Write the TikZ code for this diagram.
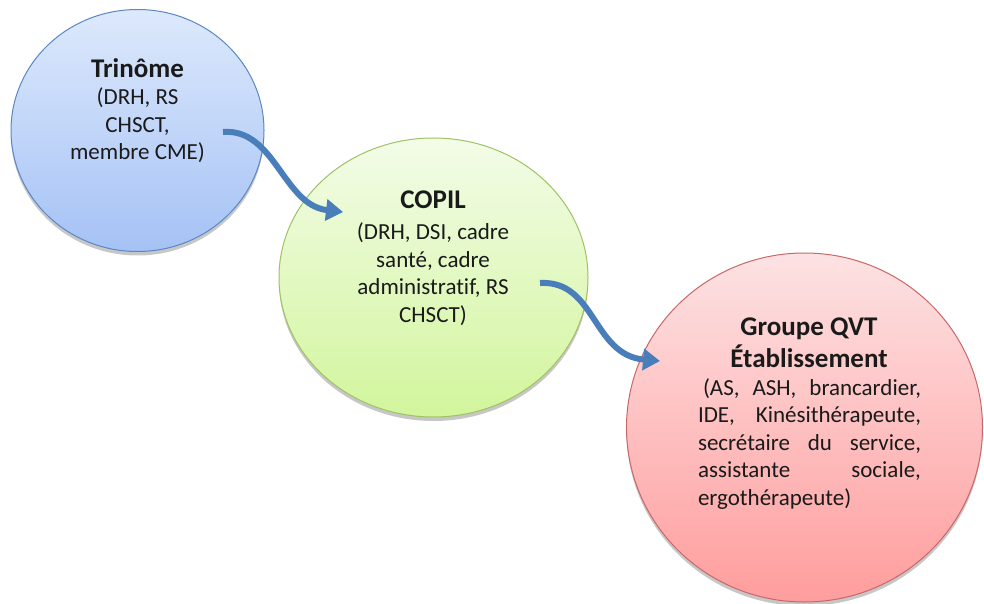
\documentclass[tikz,border=0pt]{standalone}
\usepackage{fontspec}
\setmainfont{Carlito}[Ligatures=NoCommon]
\usetikzlibrary{shapes.geometric,arrows.meta,shadows,calc}
\definecolor{bluetop}{HTML}{DDE9FC}
\definecolor{bluebot}{HTML}{A5C2F5}
\definecolor{blueline}{HTML}{5B87C5}
\definecolor{greentop}{HTML}{F3FCE8}
\definecolor{greenbot}{HTML}{D2F59C}
\definecolor{greenline}{HTML}{9FC262}
\definecolor{redtop}{HTML}{FDE2E3}
\definecolor{redbot}{HTML}{FF9D9D}
\definecolor{redline}{HTML}{C96767}
\definecolor{arrowblue}{HTML}{4A7EBB}
\definecolor{txt}{HTML}{1A1A1A}
\newcommand{\titlef}{\fontsize{27}{32}\selectfont\bfseries}
\newcommand{\bodyf}{\fontsize{23}{27.5}\selectfont}
\tikzset{
  bubble/.style={ellipse, inner sep=0pt, line width=1pt,
    drop shadow={shadow xshift=0pt, shadow yshift=-4pt, opacity=0.22, fill=black}},
  bluebubble/.style={bubble, draw=blueline, top color=bluetop, bottom color=bluebot},
  greenbubble/.style={bubble, draw=greenline, top color=greentop, bottom color=greenbot},
  redbubble/.style={bubble, draw=redline, top color=redtop, bottom color=redbot},
  label/.style={inner sep=0pt, text=txt, align=center, font=\bodyf},
  flow/.style={draw=arrowblue, line width=6pt, -{Triangle[length=17pt,width=21pt]}}
}
\begin{document}
\begin{tikzpicture}[x=1pt,y=-1pt]
\useasboundingbox (0,0) rectangle (984,604);
\node[bluebubble, minimum width=253pt, minimum height=242pt] (trinome) at (137.5,130.5) {};
\node[greenbubble, minimum width=309pt, minimum height=279pt] (copil) at (433.5,277.5) {};
\node[redbubble, minimum width=356pt, minimum height=349pt] (groupe) at (804.5,427.5) {};

\node[label, anchor=base] (ttrinome) at (137.5,160) {{\titlef Trinôme}\\(DRH, RS\\CHSCT,\\membre CME)};
\node[label, anchor=base] (tcopil) at (433,322) {{\titlef COPIL}\\[4pt](DRH, DSI, cadre\\santé, cadre\\administratif, RS\\CHSCT)};
\node[label, anchor=base, font=\titlef] (tgroupe) at (809,367) {Groupe QVT\\Établissement};
\node[label, anchor=base, text width=223pt, align=justify] (bgroupe) at (809.5,395)
  {\hspace*{5pt}(AS, ASH, brancardier,\linebreak IDE, Kinésithérapeute,\linebreak secrétaire du service,\linebreak assistante sociale,\linebreak ergothérapeute)};

\coordinate (a1s) at ($(trinome.center)+(85.5,1.5)$);
\coordinate (a1e) at ($(copil.center)+(-90.5,-65.5)$);
\coordinate (a2s) at ($(copil.center)+(106.5,5.5)$);
\coordinate (a2e) at ($(groupe.center)+(-144.5,-66.5)$);
\draw[flow] (a1s) .. controls (275,128) and (283,205) .. (a1e);
\draw[flow] (a2s) .. controls (596,280) and (592,355) .. (a2e);
\end{tikzpicture}
\end{document}
